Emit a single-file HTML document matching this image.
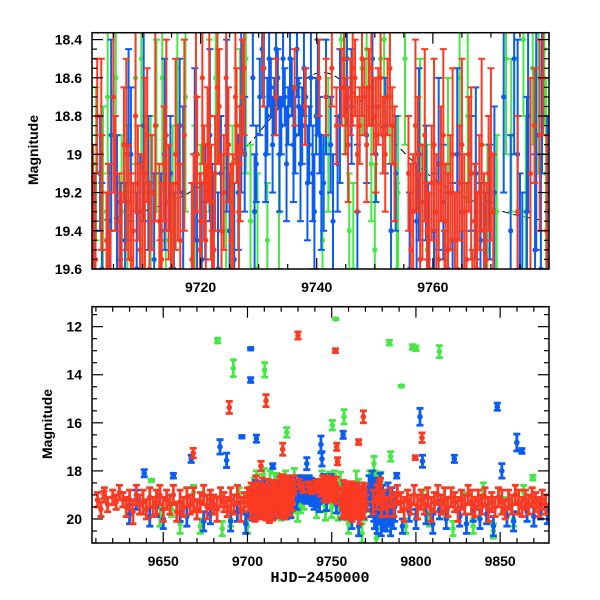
<!DOCTYPE html>
<html><head><meta charset="utf-8"><style>
html,body{margin:0;padding:0;background:#fff}
svg{display:block}
text{font-family:"Liberation Sans",sans-serif;font-weight:bold;font-size:14px;fill:#000}
</style></head><body>
<svg id="chart" width="600" height="600" viewBox="0 0 600 600" xmlns="http://www.w3.org/2000/svg">
<defs>
<clipPath id="clipTop"><rect x="92" y="32.7" width="457" height="236.3"/></clipPath>
<clipPath id="clipBot"><rect x="92" y="306.7" width="457" height="236.3"/></clipPath>
</defs>
<g id="topPanel"></g>
<g id="botPanel"></g>
<text transform="translate(38,150) rotate(-90)" text-anchor="middle">Magnitude</text>
<text transform="translate(52,424) rotate(-90)" text-anchor="middle">Magnitude</text>
<text x="320" y="582" text-anchor="middle" style="font-family:'Liberation Mono',monospace;font-size:15px">HJD−2450000</text>
</svg>
<script>
// data: [time, magnitude, error]
const redPts = [
[9701.5,19.30,0.35],[9702.2,18.80,0.3],[9703.0,19.20,0.3],[9703.8,19.45,0.25],[9704.5,19.75,0.35],[9705.3,19.10,0.3],[9706.0,19.35,0.25],[9706.8,18.95,0.3],[9707.6,19.25,0.3],[9708.4,19.40,0.25],[9709.2,19.15,0.3],[9710.0,19.30,0.3],[9710.8,18.90,0.35],[9711.6,19.20,0.3],[9712.9,19.35,0.3],[9713.0,19.80,0.35],[9713.7,19.05,0.3],[9714.5,19.25,0.3],[9715.3,19.40,0.25],[9716.1,19.15,0.3],
[9718.8,19.30,0.3],[9719.4,19.00,0.3],[9720.0,19.35,0.25],[9720.6,19.15,0.3],[9721.2,18.95,0.3],[9721.8,19.25,0.3],[9722.0,19.70,0.3],[9722.5,19.10,0.3],[9723.2,18.75,0.3],[9724.0,19.20,0.3],[9724.8,18.95,0.3],[9725.6,19.30,0.3],[9726.2,18.85,0.3],[9726.8,19.05,0.3],[9727.2,18.70,0.3],
[9730.8,18.55,0.2],[9733.0,18.70,0.2],[9736.2,18.65,0.2],[9738.0,18.75,0.2],[9740.4,18.60,0.2],[9741.6,18.70,0.2],[9742.6,18.55,0.2],[9743.4,18.85,0.2],[9744.3,18.65,0.2],
[9745.0,18.80,0.2],[9745.8,18.70,0.2],[9746.6,18.60,0.2],[9747.4,18.85,0.2],[9748.2,18.70,0.2],[9749.0,18.65,0.2],[9749.8,18.80,0.2],[9750.6,18.75,0.2],[9751.4,18.90,0.2],[9752.2,18.70,0.2],[9753.0,18.85,0.2],
[9755.8,19.10,0.3],[9756.6,19.30,0.3],[9757.4,19.00,0.3],[9758.2,19.25,0.3],[9759.0,19.40,0.25],[9759.8,19.15,0.3],[9760.6,19.30,0.3],[9761.4,19.05,0.3],[9762.0,19.75,0.35],[9762.2,19.35,0.3],[9763.0,19.20,0.3],[9763.8,19.45,0.25],[9764.6,19.15,0.3],[9765.4,19.30,0.3],[9766.2,19.00,0.3],[9766.8,19.85,0.35],[9767.2,19.35,0.3],[9768.0,19.20,0.3],[9768.8,19.40,0.3],[9769.6,19.10,0.3],[9770.4,19.30,0.3],
[9777.5,18.85,0.3],[9779.0,18.60,0.3],
[9611,19.2,.3],[9613,19.6,.3],[9615,19.0,.3],[9617,19.4,.3],[9620,19.1,.3],[9622,19.3,.3],[9624,18.9,.3],[9626,19.2,.3],[9628,19.5,.4],[9630,19.2,.4],[9632,19.7,.5],[9634,19.0,.4],[9636,19.4,.4],[9638,19.3,.5],[9640,19.6,.4],[9642,19.1,.4],[9644,19.5,.4],[9646,19.3,.5],[9648,19.0,.4],[9650,19.6,.5],[9652,19.2,.4],[9654,19.4,.4],[9656,19.0,.4],[9658,19.7,.4],[9660,19.3,.5],[9662,19.5,.4],[9664,19.1,.4],[9666,19.4,.4],[9668,19.2,.5],[9670,19.6,.4],[9672,19.3,.4],[9674,19.0,.4],[9676,19.5,.5],[9678,19.2,.4],[9680,19.4,.4],[9682,19.6,.5],[9684,19.1,.4],[9686,19.3,.4],[9688,19.5,.4],[9690,19.2,.5],[9692,19.4,.4],[9694,19.0,.4],[9696,19.6,.5],[9698,19.3,.4],[9700,19.1,.4],
[9781,19.2,.4],[9783,19.5,.4],[9785,19.1,.4],[9787,19.4,.5],[9789,19.0,.4],[9791,19.3,.4],[9793,19.6,.5],[9795,19.2,.4],[9797,19.4,.4],[9799,19.0,.4],[9801,19.5,.5],[9803,19.2,.4],[9805,19.4,.4],[9807,19.1,.4],[9809,19.6,.5],[9811,19.3,.4],[9813,19.0,.4],[9815,19.4,.4],[9817,19.2,.5],[9819,19.5,.4],[9821,19.1,.4],[9823,19.3,.4],[9825,19.6,.5],[9827,19.2,.4],[9829,19.4,.4],[9831,19.0,.4],[9833,19.3,.5],[9835,19.5,.4],[9837,19.2,.4],[9839,19.4,.4],[9841,19.1,.4],[9843,19.6,.5],[9845,19.3,.4],[9847,19.5,.4],[9849,19.1,.4],[9851,19.3,.5],[9853,19.6,.4],[9855,19.2,.4],[9857,19.4,.4],[9859,19.0,.4],[9861,19.3,.5],[9863,19.5,.4],[9865,19.2,.4],[9867,19.4,.4],[9869,19.1,.4],[9871,19.3,.4],[9873,19.5,.4],[9875,19.2,.4],[9877,19.4,.4],
[9689.2,15.36,.25],[9711,15.08,.25],[9730,12.37,.15],[9752.2,13.0,.08],[9768.8,15.75,.25],[9803.6,16.62,.2],[9667.8,17.26,.2],[9720.9,17.1,.25],[9753,17.0,.15],[9753.5,17.6,.15],[9766,16.8,.1],[9799.6,17.45,.08],[9708,17.8,.2],[9614.8,19.0,.15]
];
const redExtra = [
[9701.9,19.55,.45],[9702.9,19.0,.5],[9704.1,19.5,.45],[9705.0,18.7,.5],[9706.4,19.6,.4],[9707.2,19.0,.5],[9708.0,19.55,.45],[9708.8,18.8,.5],[9709.6,19.5,.45],[9710.4,19.1,.5],[9711.2,19.6,.45],[9712.2,18.85,.5],[9713.3,19.55,.4],[9714.1,18.9,.5],[9714.9,19.6,.45],[9715.7,19.0,.5],[9716.5,19.45,.4],[9717.2,18.9,.5],
[9718.5,19.55,.4],[9719.2,18.7,.45],[9719.9,19.5,.4],[9720.3,18.6,.45],[9720.9,19.45,.4],[9721.5,18.8,.45],[9722.3,19.5,.4],[9722.9,18.65,.4],[9723.6,19.4,.4],[9724.4,18.6,.4],[9725.2,19.45,.4],[9726.0,18.7,.35],[9726.6,19.3,.35],[9727.5,18.55,.35],
[9744.7,18.5,.3],[9745.4,18.95,.3],[9746.2,18.55,.3],[9747.0,19.0,.3],[9747.8,18.5,.3],[9748.6,18.95,.3],[9749.4,18.55,.3],[9750.2,18.9,.3],[9751.0,18.6,.3],[9751.8,19.0,.3],[9752.6,18.55,.3],[9753.4,19.05,.3],
[9756.2,19.5,.45],[9757.0,18.85,.45],[9757.8,19.55,.45],[9758.6,18.9,.45],[9759.4,19.6,.4],[9760.2,18.95,.45],[9761.0,19.55,.4],[9761.8,18.9,.45],[9762.6,19.5,.4],[9763.4,19.0,.45],[9764.2,19.6,.4],[9765.0,18.95,.45],[9765.8,19.55,.4],[9766.6,19.1,.45],[9767.6,19.6,.4],[9768.4,18.95,.45],[9769.2,19.55,.4],[9770.0,19.0,.45],[9774.6,19.3,.5],[9776.8,19.1,.5],[9778.4,18.9,.5],[9779.6,19.4,.5]
];
const bluePts = [
[9701.8,19.40,0.3],[9702.7,19.10,0.3],[9704.2,19.35,0.3],[9705.6,19.25,0.35],[9707.0,19.45,0.3],[9708.0,19.00,0.35],[9709.6,19.30,0.3],[9711.0,19.15,0.35],[9713.2,19.40,0.3],[9714.8,19.10,0.3],[9716.4,18.85,0.35],
[9719.4,19.45,0.3],[9720.8,19.25,0.3],[9722.0,19.35,0.3],[9723.5,19.10,0.3],[9725.0,19.40,0.3],[9726.5,19.20,0.3],[9727.6,19.00,0.3],
[9729.6,19.05,0.2],[9730.2,18.70,0.2],[9730.9,18.55,0.2],[9731.5,18.80,0.2],[9732.1,18.65,0.15],[9732.7,18.75,0.15],[9733.3,18.60,0.15],[9733.9,18.85,0.15],[9734.5,18.70,0.15],[9735.1,18.80,0.15],[9735.7,18.65,0.15],[9736.3,18.90,0.2],[9736.9,18.75,0.15],[9737.5,18.85,0.2],[9738.1,18.70,0.15],[9738.7,18.95,0.2],[9739.3,19.10,0.25],[9739.9,18.80,0.2],[9740.5,18.90,0.2],[9741.2,19.15,0.25],[9742.4,18.95,0.25],[9743.6,19.05,0.25],
[9746.0,18.75,0.3],[9748.6,18.90,0.25],[9750.2,19.00,0.25],[9751.8,18.85,0.25],[9753.6,19.10,0.3],
[9757.2,19.35,0.3],[9758.8,19.15,0.3],[9760.2,19.40,0.3],[9761.8,19.25,0.3],[9763.4,19.45,0.3],[9765.0,19.30,0.3],[9766.6,19.10,0.3],[9768.2,19.45,0.3],[9769.8,19.25,0.3],
[9630,19.8,.4],[9634,19.2,.4],[9638.7,18.1,.15],[9642,19.9,.4],[9646,19.5,.4],[9650,20.0,.4],[9656,18.2,.1],[9660,19.7,.4],[9664,19.9,.4],[9666.6,17.5,.15],[9670,19.6,.4],[9674,20.1,.4],[9678,19.8,.4],[9683.7,17.0,.3],[9687.6,17.56,.3],[9690,20.1,.4],[9694,19.7,.4],[9696.7,16.58,.05],[9699,20.2,.4],[9701.9,12.92,.05],[9701.9,14.22,.1],[9705.3,16.66,.15],[9715,17.8,.1],[9735.2,17.7,.25],[9743.6,16.9,.35],[9744.2,17.5,.3],[9756.8,16.5,.15],[9762,20.0,.4],[9766,20.3,.4],
[9774.6,19.0,.6],[9775.4,19.8,.6],[9776.2,19.3,.6],[9777,20.1,.5],[9777.8,18.9,.6],[9778.6,19.6,.6],[9779.4,20.2,.5],[9780.2,19.2,.6],[9781,19.9,.6],[9781.8,19.4,.6],[9782.6,20.0,.5],[9783.4,19.1,.6],[9784.2,19.7,.6],[9785,20.2,.5],[9785.8,19.3,.6],[9786.6,19.8,.6],[9787.4,19.5,.6],
[9788.6,18.2,.1],[9792,20.3,.3],[9796,19.7,.4],[9800,20.0,.4],[9802.4,15.75,.35],[9803.9,17.6,.25],[9806,19.8,.4],[9810,20.2,.4],[9814,19.6,.4],[9818,20.0,.4],[9822.8,17.5,.15],[9826,19.9,.4],[9830,20.2,.4],[9834,19.7,.4],[9838,20.0,.4],[9842,19.8,.4],[9846,20.3,.4],[9848.3,15.33,.15],[9851,18.0,.3],[9854,19.9,.4],[9858,20.1,.4],[9859.9,16.82,.35],[9862.9,17.17,.1],[9866,19.7,.4],[9870,19.9,.4],[9874,19.6,.4],[9878,19.8,.4]
];
const blueExtra = [
[9701.4,19.5,.4],[9703.0,19.6,.45],[9704.6,18.9,.5],[9706.2,19.55,.4],[9707.6,18.95,.5],[9709.0,19.6,.4],[9710.2,18.85,.5],[9712.0,19.55,.45],[9713.8,19.0,.5],[9715.4,19.6,.4],[9717.0,19.2,.45],[9719.0,19.0,.45],[9720.2,19.55,.4],[9721.6,18.9,.45],[9723.0,19.6,.4],[9724.5,18.85,.45],[9725.8,19.55,.4],[9727.0,18.75,.45],
[9729.0,18.6,.25],[9729.3,19.3,.3],[9730.6,18.45,.25],[9731.2,19.0,.25],[9731.8,18.5,.25],[9732.4,18.95,.25],[9733.0,18.45,.25],[9733.6,19.0,.3],[9734.2,18.5,.25],[9734.8,19.05,.3],[9735.4,18.5,.25],[9736.0,18.95,.3],[9736.6,18.45,.25],[9737.2,19.05,.3],[9737.8,18.55,.25],[9738.4,19.15,.3],[9739.0,18.6,.25],[9739.6,19.3,.3],[9740.2,18.65,.25],[9740.8,19.2,.3],[9741.6,18.7,.3],[9742.8,19.35,.35],[9744.0,18.8,.35],
[9745.2,18.5,.35],[9747.0,19.3,.35],[9749.6,18.5,.35],[9752.8,19.4,.35],
[9756.0,19.6,.4],[9757.6,19.0,.45],[9759.2,19.55,.4],[9761.0,19.05,.45],[9762.6,19.6,.4],[9764.2,19.0,.45],[9765.8,19.55,.4],[9767.4,19.1,.45],[9769.0,19.6,.4],[9770.6,19.2,.45],
[9772.2,18.7,.5],[9773.4,19.4,.5],[9774.0,18.5,.5],[9775.0,19.6,.5],[9776.4,18.8,.5],[9777.6,19.5,.5],[9778.8,18.6,.5],[9779.7,19.3,.5]
];
const greenPts = [
[9702.0,19.05,0.4],[9704.0,18.70,0.4],[9706.4,19.30,0.4],[9708.8,18.60,0.45],[9710.4,19.20,0.4],[9712.4,18.85,0.45],[9714.0,19.45,0.4],[9716.0,18.55,0.45],[9719.0,19.25,0.4],[9721.5,18.85,0.45],[9724.4,19.40,0.4],[9726.8,18.90,0.45],[9728.6,19.35,0.4],[9731.5,19.45,0.3],[9733.5,19.30,0.3],[9742.0,18.95,0.35],[9744.8,18.65,0.35],[9745.6,19.40,0.3],[9747.8,18.55,0.35],[9749.4,19.05,0.3],[9751.0,18.50,0.35],[9752.6,18.70,0.35],[9754.0,19.20,0.4],[9757.8,18.95,0.45],[9762.6,19.05,0.45],[9766.0,18.80,0.45],[9771.0,19.30,0.4],[9773.5,18.90,0.4],[9775.6,18.40,0.4],[9777.2,18.55,0.4],[9779.2,18.45,0.4],
[9643,18.4,.05],[9648,19.9,.4],[9655,19.6,.3],[9660,20.2,.4],[9668,18.9,.3],[9672,20.3,.3],[9678,19.5,.3],[9682.3,12.58,.1],[9685,20.4,.3],[9690,20.0,.3],[9691.6,13.73,.35],[9695,19.0,.3],[9700,20.3,.3],[9710.2,13.8,.3],[9723.3,16.4,.2],[9750.4,16.1,.2],[9752.4,11.68,.03],[9757.3,15.75,.3],[9760,20.2,.4],[9768,20.6,.4],[9775.1,17.7,.3],[9776.5,20.8,.4],[9782,20.0,.3],[9784.2,12.67,.1],[9785,17.4,.2],[9791.3,14.47,.03],[9794,20.3,.3],[9798,12.85,.1],[9800,12.9,.1],[9804,19.1,.3],[9808,20.0,.3],[9813.9,13.04,.25],[9818,19.6,.3],[9822,20.4,.3],[9828,19.2,.3],[9834,20.3,.3],[9840,18.8,.3],[9846,20.5,.3],[9852,19.4,.3],[9858,20.0,.3],[9864,18.9,.3],[9869.4,18.28,.1],[9874,19.7,.3]
];
const greenExtra = [
[9703.2,19.3,.55],[9705.4,18.6,.6],[9707.4,19.4,.55],[9709.8,18.5,.6],[9711.4,19.35,.55],[9713.4,18.6,.6],[9715.2,19.4,.55],[9717.4,18.7,.6],[9720.0,19.5,.55],[9722.6,18.6,.6],[9725.5,19.4,.55],[9727.8,18.5,.6],[9729.8,19.6,.5],[9741.0,19.45,.5],[9744.2,18.4,.4],[9746.3,19.6,.45],[9748.6,18.45,.4],[9750.0,19.5,.45],[9751.6,18.4,.4],[9753.8,19.6,.45],[9755.2,18.5,.45],[9759.0,19.5,.55],[9764.6,18.6,.6],[9769.4,19.5,.55],[9772.6,18.5,.5],[9776.0,19.3,.5],[9778.2,18.6,.5],[9779.5,19.1,.5]
];
const modelParams = [9741, 20.8, 0.5, 19.42]; // t0, tE, u0, baseline mag
const topXTicks = [9720, 9740, 9760];
const topYTicks = [18.4, 18.6, 18.8, 19, 19.2, 19.4, 19.6];
const botXTicks = [9650, 9700, 9750, 9800, 9850];
const botYTicks = [12, 14, 16, 18, 20];

const NS = "http://www.w3.org/2000/svg";
function mk(tag, attrs, parent){const e=document.createElementNS(NS,tag);for(const k in attrs)e.setAttribute(k,attrs[k]);parent.appendChild(e);return e;}

const panels = [
 {g:document.getElementById('topPanel'), clip:'clipTop', x0:92, x1:549, y0:32.7, y1:269, tmin:9701.3, tmax:9780, mmin:18.364, mmax:19.6,
  xt:topXTicks, xminor:5, yt:topYTicks, yminor:0.05, prefix:'top', lw:2, cap:3.5, r:2.6, model:true},
 {g:document.getElementById('botPanel'), clip:'clipBot', x0:92, x1:549, y0:306.7, y1:543, tmin:9607.7, tmax:9879, mmin:11.17, mmax:21.0,
  xt:botXTicks, xminor:10, yt:botYTicks, yminor:0.5, prefix:'bottom', lw:2.8, cap:3.5, r:2.8, model:false}
];
const colors = {green:'#45e845', blue:'#0b5cf0', red:'#fa3a22'};
const seriesList = [['green', greenPts.concat(greenExtra)], ['blue', bluePts.concat(blueExtra)], ['red', redPts.concat(redExtra)]];

function magModel(t){
  const [t0,tE,u0,mb]=modelParams;
  const u=Math.sqrt(u0*u0+((t-t0)/tE)**2);
  const A=(u*u+2)/(u*Math.sqrt(u*u+4));
  return mb-2.5*Math.log10(A);
}

panels.forEach(p=>{
  const X=t=>p.x0+(t-p.tmin)/(p.tmax-p.tmin)*(p.x1-p.x0);
  const Y=m=>p.y0+(m-p.mmin)/(p.mmax-p.mmin)*(p.y1-p.y0);
  const data = mk('g',{'clip-path':'url(#'+p.clip+')'},p.g);
  
  
  if(p.model){
    let d='';
    for(let t=p.tmin;t<=p.tmax;t+=0.25){d+=(d?'L':'M')+X(t).toFixed(1)+','+Y(magModel(t)).toFixed(1);}
    const mc = mk('path',{d:d,fill:'none',stroke:'#000','stroke-width':1,'stroke-dasharray':'7,4'},data);
    
    
  }
  seriesList.forEach(([name,pts])=>{
    const sg = mk('g',{stroke:colors[name],fill:colors[name],'stroke-width':p.lw},data);
    
    
    pts.forEach(([t,m,e])=>{
      if(t<p.tmin-2||t>p.tmax+2) return;
      const x=X(t), ya=Y(m-e), yb=Y(m+e), y=Y(m);
      const pt = mk('g',{},sg);
      
      
      mk('line',{x1:x,y1:ya,x2:x,y2:yb},pt);
      mk('line',{x1:x-p.cap,y1:ya,x2:x+p.cap,y2:ya},pt);
      mk('line',{x1:x-p.cap,y1:yb,x2:x+p.cap,y2:yb},pt);
      mk('circle',{cx:x,cy:y,r:p.r,stroke:'none'},pt);
    });
  });
  const fr = mk('rect',{x:p.x0,y:p.y0,width:p.x1-p.x0,height:p.y1-p.y0,fill:'none',stroke:'#000','stroke-width':1.5},p.g);
  
  
  const ax = mk('g',{stroke:'#000','stroke-width':1.2},p.g);
  
  
  const xstart=Math.ceil(p.tmin/p.xminor)*p.xminor;
  const xmajStep=p.xt[1]-p.xt[0];
  for(let t=xstart;t<=p.tmax;t+=p.xminor){
    const major = Math.abs(t%xmajStep)<1e-6;
    const L = major?11:5, x=X(t);
    mk('line',{x1:x,y1:p.y1,x2:x,y2:p.y1-L},ax);
    mk('line',{x1:x,y1:p.y0,x2:x,y2:p.y0+L},ax);
  }
  p.xt.forEach(t=>{
    const tx = mk('text',{x:X(t),y:p.y1+23,'text-anchor':'middle'},p.g);
    tx.textContent=t;
    
    
  });
  const ystart=Math.ceil(p.mmin/p.yminor-1e-6)*p.yminor;
  const ymajStep=p.yt[1]-p.yt[0];
  for(let m=ystart;m<=p.mmax+1e-6;m+=p.yminor){
    const r=m/ymajStep; const major=Math.abs(r-Math.round(r))<1e-4;
    const L = major?11:5, y=Y(m);
    mk('line',{x1:p.x0,y1:y,x2:p.x0+L,y2:y},ax);
    mk('line',{x1:p.x1,y1:y,x2:p.x1-L,y2:y},ax);
  }
  p.yt.forEach(m=>{
    const ty = mk('text',{x:p.x0-10,y:Y(m)+5,'text-anchor':'end'},p.g);
    ty.textContent=String(m);
    
    
  });
});
</script>
</body></html>
